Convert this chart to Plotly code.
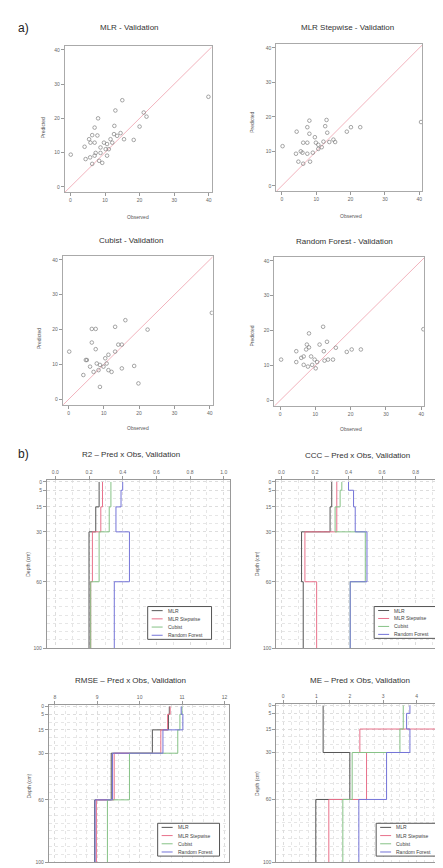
import plotly.graph_objects as go

W, H = 443, 868

# ---------------- data ----------------
methods = ["MLR", "MLR Stepwise", "Cubist", "Random Forest"]
method_colors = ["#555555", "#e8708a", "#86c286", "#7474d8"]

depth_breaks = [0, 5, 15, 30, 60, 100]
depth_ticks = [0, 5, 15, 30, 60, 100]

scatter_ticks = [0, 10, 20, 30, 40]
one_to_one = [-5, 45]

mlr_obs = [0.1, 15, 13, 8, 12.7, 7, 6.3, 7.8, 4.1, 7, 9.7, 10.6, 8.7, 7.3, 10.2, 11.1, 12.1, 13.5, 14.5,
           15.5, 18.3, 20, 22, 21.2, 39.9, 4.4, 5.7, 6.3, 8.3, 9.2, 10.6, 5.8, 5.4, 8.7, 7, 11.6, 12.6]
mlr_pred = [9.4, 25.3, 22.3, 20, 17.8, 17.3, 15.1, 15, 11.7, 12.9, 12.9, 12.5, 9.9, 9.9, 11, 11, 12.9, 14.9,
            15.7, 13.9, 13.7, 17.6, 20.5, 21.7, 26.3, 8.1, 8.6, 6.7, 7.6, 7, 9.1, 12.9, 13.9, 11.5, 9.1, 13.9, 15.4]

step_obs = [0.2, 4.3, 8, 7.4, 8, 13, 12.6, 13.2, 6.2, 7.4, 9.9, 10.6, 12.1, 13.8, 15, 15.5, 18.9, 20.1,
            22.8, 4.1, 6, 7.4, 9, 4.8, 6.2, 8.2, 10.6, 11.6, 40.5, 9.6, 5.5]
step_pred = [11.5, 15.7, 18.9, 17, 15.1, 19.1, 17.3, 15.4, 12.5, 12.5, 12.5, 11.9, 12.8, 12.7, 13.4, 12.7,
             15.7, 17, 17, 9.3, 9.6, 9.3, 9.6, 7, 6.4, 7, 10.7, 11.2, 18.5, 14.1, 10]

cub_obs = [0.2, 4.9, 4.2, 6.6, 7.7, 6.6, 7.7, 6.1, 7.1, 8, 8.9, 9.9, 8.5, 10.8, 11.3, 10.4, 13.2, 14.1,
           15.1, 13.2, 16.1, 15.1, 18.6, 19.8, 22.4, 8.9, 40.6, 5.2, 11.3, 12.2]
cub_pred = [13.7, 11.3, 7, 20.2, 20.2, 16.3, 14.4, 9.4, 7.9, 10.3, 9.9, 9.4, 8.4, 10.3, 8.4, 11.8, 13.7,
            15.7, 15.7, 20.8, 22.7, 8.9, 9.6, 4.6, 20, 3.6, 24.8, 11.3, 12.8, 7.9]

rf_obs = [0.3, 4.6, 4.6, 6.7, 8.2, 7.6, 8.2, 7.4, 6.7, 7.9, 9.1, 9.8, 10.5, 10.1, 11.2, 12.2, 12.4, 13.3,
          13.6, 15, 15.8, 18.9, 20.3, 22.9, 40.6, 6, 12.6, 8.8]
rf_pred = [11.7, 14.1, 11, 12.6, 19.2, 16, 15.2, 14.6, 10.2, 9.7, 10.2, 11.7, 11, 9.2, 16, 21.1, 14.1,
           16.8, 11.7, 11.7, 15.1, 13.9, 14.6, 14.6, 20.4, 12.2, 11.4, 12.6]

# metric per layer (0-5, 5-15, 15-30, 30-60, 60-100), one list per method
r2_mlr = [0.26, 0.26, 0.24, 0.20, 0.20]
r2_step = [0.28, 0.28, 0.27, 0.22, 0.21]
r2_cub = [0.33, 0.33, 0.32, 0.26, 0.21]
r2_rf = [0.40, 0.39, 0.36, 0.44, 0.35]

ccc_mlr = [0.30, 0.30, 0.29, 0.12, 0.13]
ccc_step = [0.33, 0.33, 0.33, 0.14, 0.21]
ccc_cub = [0.36, 0.35, 0.32, 0.50, 0.41]
ccc_rf = [0.40, 0.43, 0.44, 0.51, 0.41]

rmse_mlr = [10.70, 10.68, 10.30, 9.33, 8.94]
rmse_step = [10.72, 10.66, 10.50, 9.40, 8.98]
rmse_cub = [11.00, 10.95, 10.90, 9.76, 9.24]
rmse_rf = [10.98, 11.02, 10.55, 9.36, 8.95]

me_mlr = [1.2, 1.2, 1.2, 2.0, 0.98]
me_step = [4.9, 4.8, 2.3, 2.5, 1.37]
me_cub = [3.6, 3.6, 3.5, 2.07, 1.79]
me_rf = [3.8, 3.7, 3.8, 3.1, 2.27]

# ---------------- helpers ----------------
FONT = "Liberation Sans, Arial, sans-serif"


def dom_x(a, b):
    return [a / W, min(b / W, 1.0)]


def dom_y(top, bottom):
    return [max(1 - bottom / H, 0.0), 1 - top / H]


def px(x):
    return x / W


def py(y):
    return 1 - y / H


fig = go.Figure()
layout = {}
annotations = []
shapes = []


def ann(text, x, y, size=8, angle=0, xanchor="center", color="#333"):
    annotations.append(dict(text=text, x=px(x), y=py(y), xref="paper", yref="paper",
                            showarrow=False, xanchor=xanchor, yanchor="middle",
                            textangle=angle, font=dict(size=size, color=color, family=FONT)))


# ---------------- a) scatter panels ----------------
scatter_panels = [
    ("MLR - Validation", mlr_obs, mlr_pred, (57, 204), (36, 183), (122, 18), (130, 208), (35, 118)),
    ("MLR Stepwise - Validation", step_obs, step_pred, (269, 415), (34, 182), (340, 18), (344, 207), (245, 113)),
    ("Cubist - Validation", cub_obs, cub_pred, (55, 205), (247, 397), (123, 232), (130, 420), (31, 330)),
    ("Random Forest - Validation", rf_obs, rf_pred, (267, 417), (248, 398), (337, 233), (344, 421), (245, 328)),
]

for i, (title, obs, pred, xd, yd, tpos, xlab, ylab) in enumerate(scatter_panels, start=1):
    xa = "x" if i == 1 else f"x{i}"
    ya = "y" if i == 1 else f"y{i}"
    fig.add_trace(go.Scatter(x=one_to_one, y=one_to_one, mode="lines", xaxis=xa, yaxis=ya,
                             line=dict(color="#f2b3bd", width=1), showlegend=False, hoverinfo="skip"))
    fig.add_trace(go.Scatter(x=obs, y=pred, mode="markers", xaxis=xa, yaxis=ya, showlegend=False,
                             marker=dict(symbol="circle-open", size=3.6, color="#808080",
                                         line=dict(width=0.7, color="#808080"))))
    axcommon = dict(showline=True, mirror=True, linecolor="#aaaaaa", linewidth=1, showgrid=False,
                    zeroline=False, ticks="outside", ticklen=3, tickcolor="#999999",
                    tickvals=scatter_ticks, tickfont=dict(size=5, color="#666", family=FONT))
    layout["xaxis" if i == 1 else f"xaxis{i}"] = dict(domain=dom_x(*xd), range=[-1.6, 40.8],
                                                      anchor=ya, **axcommon)
    layout["yaxis" if i == 1 else f"yaxis{i}"] = dict(domain=dom_y(*yd), range=[-1.5, 41.2],
                                                      anchor=xa, **axcommon)
    ann(title, tpos[0], tpos[1], size=8)
    ann("Observed", xlab[0], xlab[1], size=5, color="#555")
    ann("Predicted", ylab[0], ylab[1], size=5, angle=-90, color="#555")

ann("a)", 8, 18, size=12, xanchor="left", color="#222")
ann("b)", 8, 447, size=12, xanchor="left", color="#222")

# ---------------- b) depth profile panels ----------------
profile_panels = [
    ("R2 – Pred x Obs, Validation", [r2_mlr, r2_step, r2_cub, r2_rf], (39, 223), (473, 642),
     [-0.05, 1.04], [0, 0.2, 0.4, 0.6, 0.8, 1.0], ["0.0", "0.2", "0.4", "0.6", "0.8", "1.0"], 0.1,
     (123, 447), (20, 557), (140, 600, 204, 633)),
    ("CCC – Pred x Obs, Validation", [ccc_mlr, ccc_step, ccc_cub, ccc_rf], (269, 443), (473, 642),
     [-0.03, 1.005], [0, 0.2, 0.4, 0.6, 0.8, 1.0], ["0.0", "0.2", "0.4", "0.6", "0.8", "1.0"], 0.1,
     (350, 448), (249, 557), (367, 600, 430, 632)),
    ("RMSE – Pred x Obs, Validation", [rmse_mlr, rmse_step, rmse_cub, rmse_rf], (41, 222), (699, 857),
     [7.86, 12.12], [8, 9, 10, 11, 12], ["8", "9", "10", "11", "12"], 0.25,
     (123, 674), (21, 780), (150, 818, 212, 851)),
    ("ME – Pred x Obs, Validation", [me_mlr, me_step, me_cub, me_rf], (269, 443), (698, 857),
     [-0.2, 5.0], [0, 1, 2, 3, 4, 5], ["0", "1", "2", "3", "4", "5"], 0.25,
     (353, 674), (249, 778), (369, 818, 433, 851)),
]

for j, (title, series, xd, yd, xr, xtv, xtt, xminor, tpos, ylab, lg) in enumerate(profile_panels, start=5):
    xa, ya = f"x{j}", f"y{j}"
    for name, color, vals in zip(methods, method_colors, series):
        xs = list(vals) + [vals[-1]]
        fig.add_trace(go.Scatter(x=xs, y=depth_breaks, mode="lines", line_shape="vh", xaxis=xa, yaxis=ya,
                                 name=name, showlegend=False,
                                 line=dict(color=color, width=1)))
    layout[f"xaxis{j}"] = dict(domain=dom_x(*xd), range=xr, anchor=ya, side="top",
                               tickvals=xtv, ticktext=xtt, ticks="outside", ticklen=3, tickcolor="#999",
                               tickfont=dict(size=5, color="#666", family=FONT),
                               showline=True, mirror=True, linecolor="#999999", linewidth=1,
                               showgrid=True, gridcolor="#dddddd", griddash="dot", gridwidth=1,
                               zeroline=False,
                               minor=dict(tickmode="linear", tick0=0, dtick=xminor, showgrid=True,
                                          gridcolor="#e6e6e6", griddash="dot", ticks=""))
    layout[f"yaxis{j}"] = dict(domain=dom_y(*yd), range=[100, -1], anchor=xa,
                               tickvals=depth_ticks, ticks="outside", ticklen=3, tickcolor="#999",
                               tickfont=dict(size=5, color="#666", family=FONT),
                               showline=True, mirror=True, linecolor="#999999", linewidth=1,
                               showgrid=True, gridcolor="#dddddd", griddash="dot", gridwidth=1,
                               zeroline=False,
                               minor=dict(tickmode="linear", tick0=0, dtick=5, showgrid=True,
                                          gridcolor="#e6e6e6", griddash="dot", ticks=""))
    ann(title, tpos[0], tpos[1], size=8)
    ann("Depth (cm)", ylab[0], ylab[1], size=5, angle=-90, color="#555")
    # legend box
    x0, y0, x1, y1 = lg
    shapes.append(dict(type="rect", xref="paper", yref="paper", x0=px(x0), x1=px(x1), y0=py(y1), y1=py(y0),
                       line=dict(color="#555555", width=1), fillcolor="white", layer="above"))
    step = (y1 - y0) / 4.0
    for k, (name, color) in enumerate(zip(methods, method_colors)):
        yy = y0 + step * (k + 0.5)
        shapes.append(dict(type="line", xref="paper", yref="paper", x0=px(x0 + 4), x1=px(x0 + 15),
                           y0=py(yy), y1=py(yy), line=dict(color=color, width=1), layer="above"))
        annotations.append(dict(text=name, x=px(x0 + 18), y=py(yy), xref="paper", yref="paper",
                                showarrow=False, xanchor="left", yanchor="middle",
                                font=dict(size=5, color="#444", family=FONT)))

fig.update_layout(
    width=W, height=H,
    margin=dict(l=0, r=0, t=0, b=0),
    paper_bgcolor="white", plot_bgcolor="white",
    font=dict(family=FONT, color="#444"),
    showlegend=False,
    annotations=annotations,
    shapes=shapes,
    **layout,
)

fig.write_html("out.html")
